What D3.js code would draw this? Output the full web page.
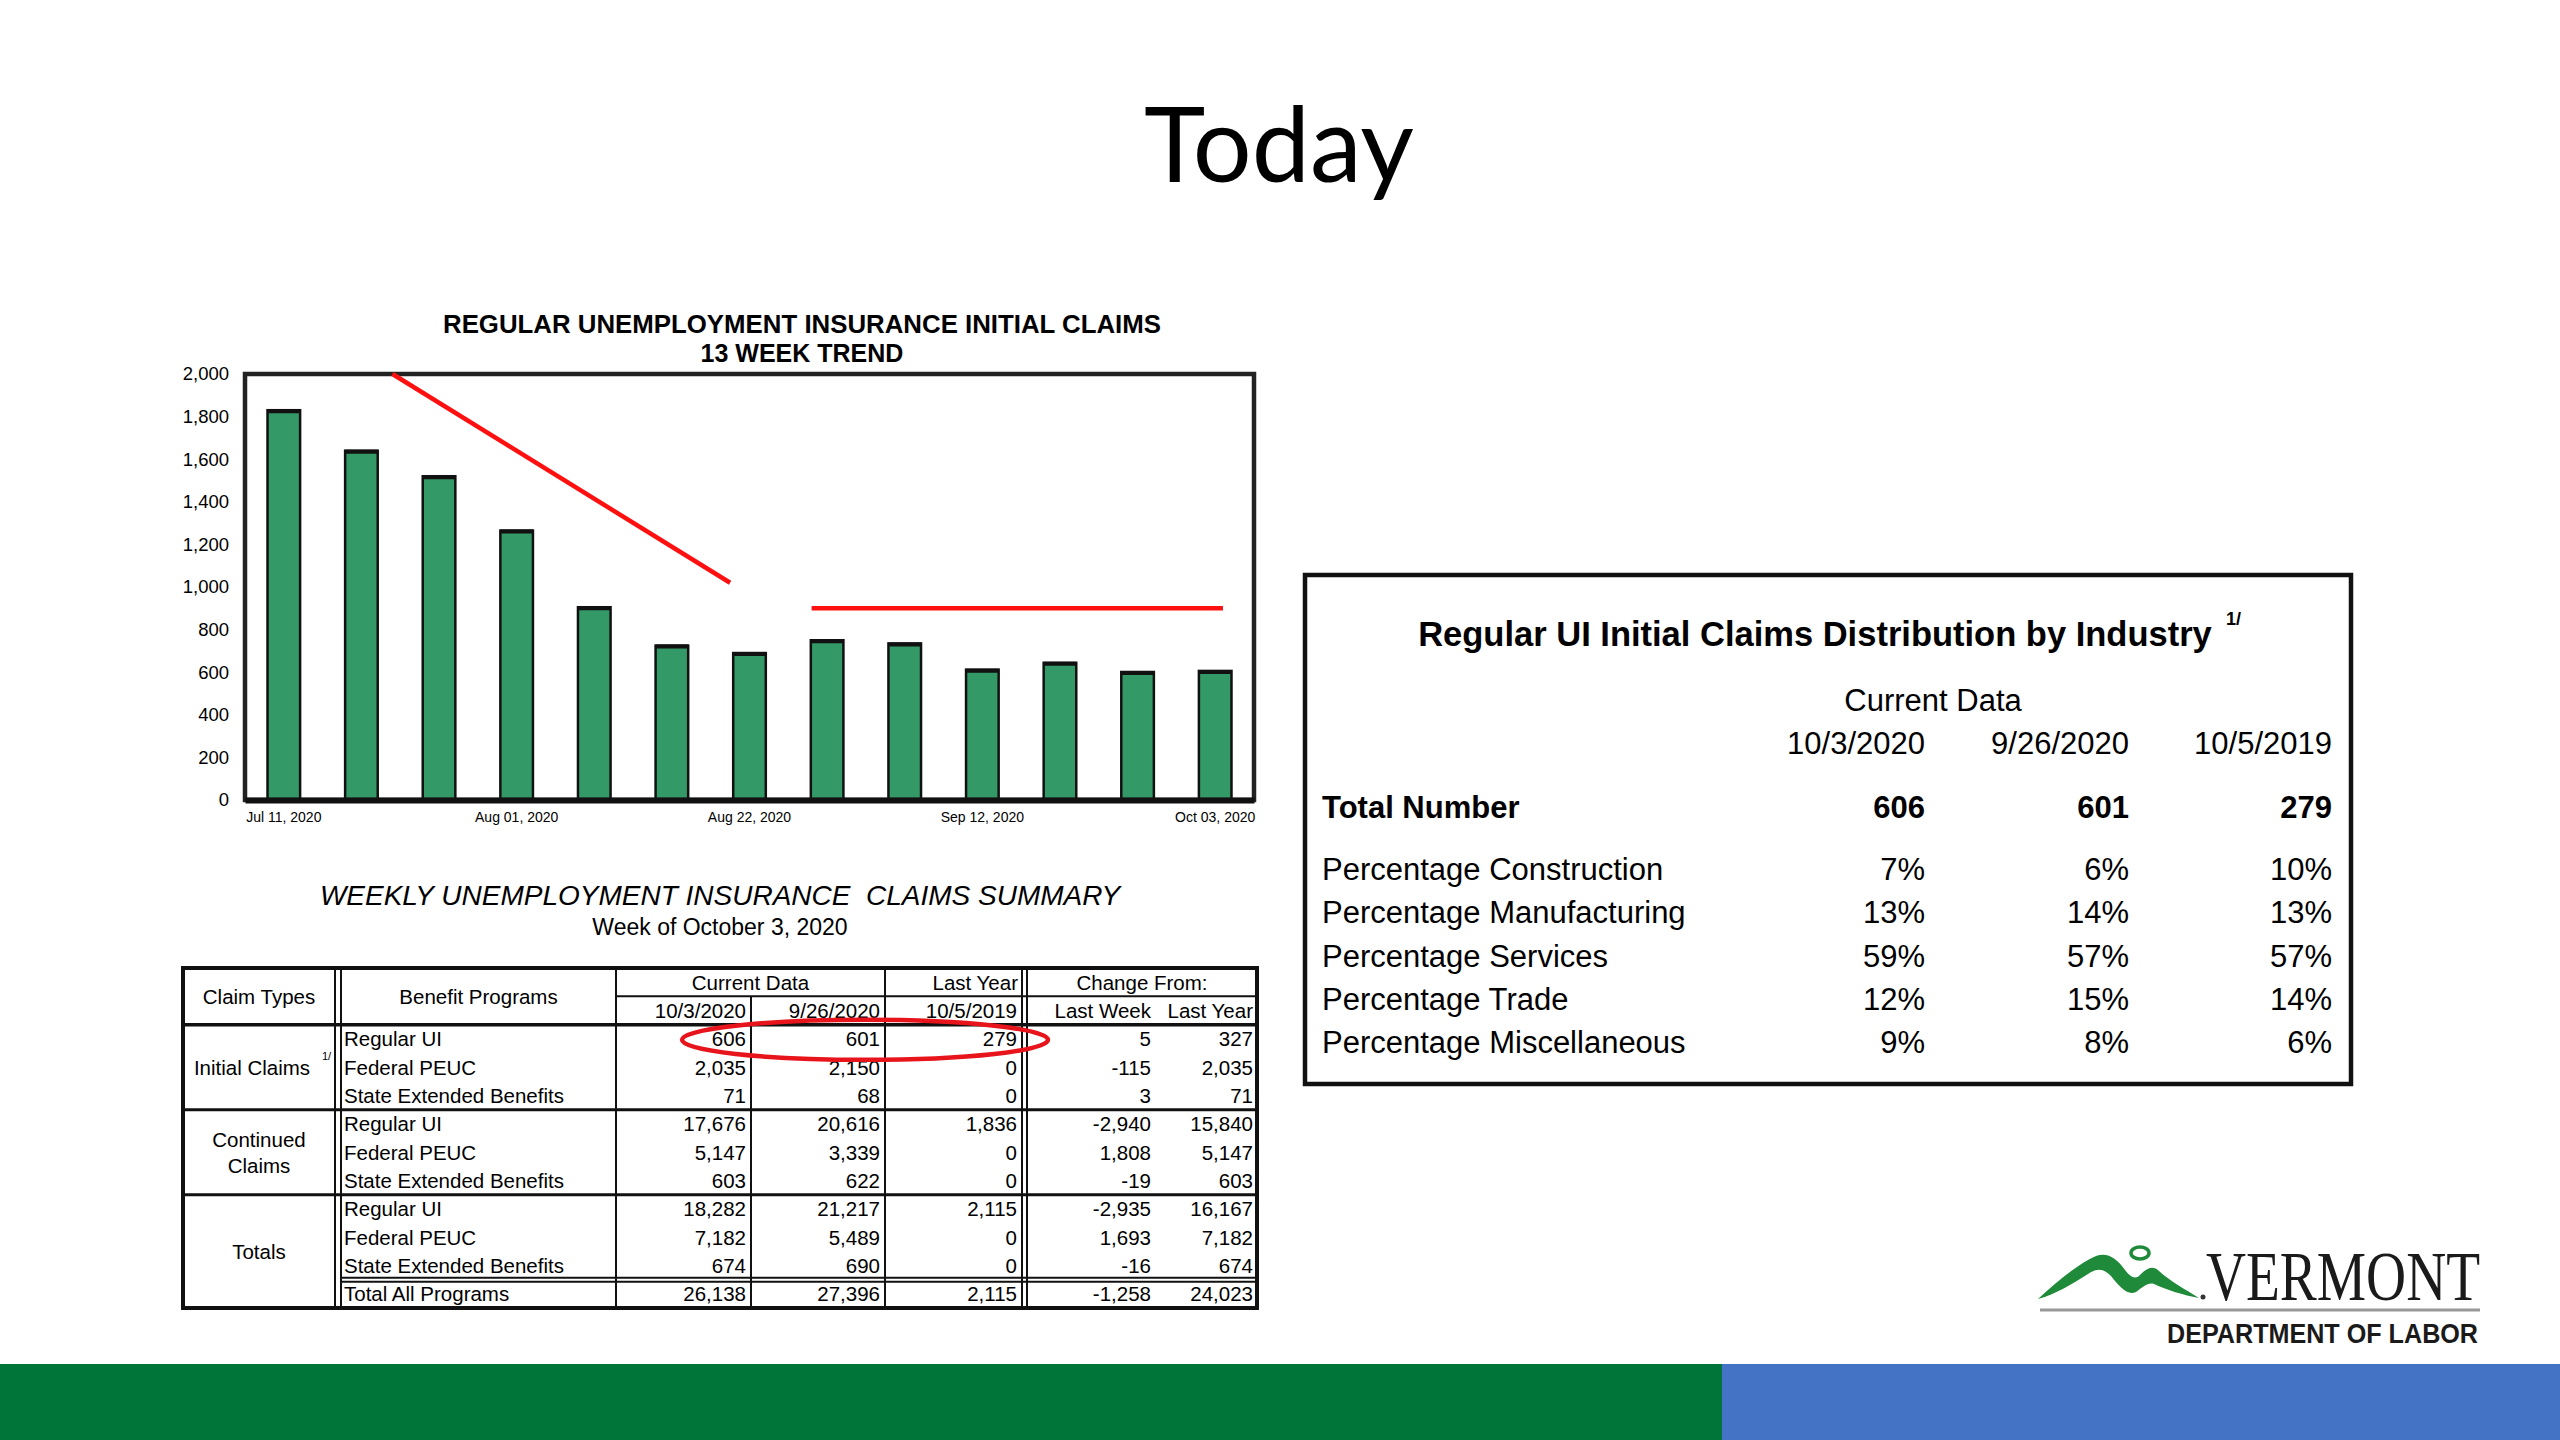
<!DOCTYPE html>
<html>
<head>
<meta charset="utf-8">
<script src="https://cdnjs.cloudflare.com/ajax/libs/d3/7.8.5/d3.min.js"></script>
<style>
  body { margin: 0; background: #fff; }
</style>
</head>
<body>
<div id="slide"></div>
<script>
// chart data
var weeks = ["Jul 11, 2020", "Jul 18, 2020", "Jul 25, 2020", "Aug 01, 2020", "Aug 08, 2020", "Aug 15, 2020",
    "Aug 22, 2020", "Aug 29, 2020", "Sep 05, 2020", "Sep 12, 2020", "Sep 19, 2020", "Sep 26, 2020", "Oct 03, 2020"];
var claims = [1830, 1640, 1520, 1265, 905, 725, 690, 750, 735, 612, 644, 601, 606];
var labeledWeeks = ["Jul 11, 2020", "Aug 01, 2020", "Aug 22, 2020", "Sep 12, 2020", "Oct 03, 2020"];
var yTicks = [0, 200, 400, 600, 800, 1000, 1200, 1400, 1600, 1800, 2000];
// red trend marks, x in week index units
var trendDown = [[1.4, 2000], [5.75, 1020]];
var trendFlat = [[6.8, 900], [12.1, 900]];

// summary table data
var summaryDates = ["10/3/2020", "9/26/2020", "10/5/2019"];
var changeCols = ["Last Week", "Last Year"];
var claimTypes = ["Initial Claims", "Continued Claims", "Totals"];
var programs = ["Regular UI", "Federal PEUC", "State Extended Benefits"];
var initialClaims = [[606, 601, 279, 5, 327], [2035, 2150, 0, -115, 2035], [71, 68, 0, 3, 71]];
var continuedClaims = [[17676, 20616, 1836, -2940, 15840], [5147, 3339, 0, 1808, 5147], [603, 622, 0, -19, 603]];
var totalClaims = [[18282, 21217, 2115, -2935, 16167], [7182, 5489, 0, 1693, 7182], [674, 690, 0, -16, 674]];
var allPrograms = [26138, 27396, 2115, -1258, 24023];

// industry table data
var industryDates = ["10/3/2020", "9/26/2020", "10/5/2019"];
var industryTotal = [606, 601, 279];
var industryLabels = ["Percentage Construction", "Percentage Manufacturing", "Percentage Services",
    "Percentage Trade", "Percentage Miscellaneous"];
var industryPct = [[7, 6, 10], [13, 14, 13], [59, 57, 57], [12, 15, 14], [9, 8, 6]];

var svgWidth = 2560;
var svgHeight = 1440;
var sans = "'Liberation Sans', Arial, sans-serif";

var svg = d3.select("#slide")
    .append("svg")
    .attr("width", svgWidth)
    .attr("height", svgHeight);

svg.append("rect").attr("width", svgWidth).attr("height", svgHeight).attr("fill", "#fff");

// slide title
svg.append("text")
    .attr("x", 1279)
    .attr("y", 182)
    .attr("text-anchor", "middle")
    .attr("font-family", "Lato, 'Open Sans', sans-serif")
    .attr("font-size", 104)
    .attr("fill", "#000")
    .text("Today");

// ---------- bar chart ----------
var plot = { left: 245, right: 1254, top: 374, bottom: 800 };

var x = d3.scaleBand()
    .domain(weeks)
    .range([plot.left, plot.right])
    .paddingInner(0.58)
    .paddingOuter(0.29);

var xIdx = d3.scaleLinear()
    .domain([-0.5, weeks.length - 0.5])
    .range([plot.left, plot.right]);

var y = d3.scaleLinear()
    .domain([0, 2000])
    .range([plot.bottom, plot.top]);

var chartGroup = svg.append("g");

chartGroup.append("text")
    .attr("x", 802).attr("y", 333)
    .attr("text-anchor", "middle")
    .attr("font-family", sans).attr("font-weight", "bold").attr("font-size", 25)
    .attr("textLength", 718).attr("lengthAdjust", "spacingAndGlyphs")
    .text("REGULAR UNEMPLOYMENT INSURANCE INITIAL CLAIMS");
chartGroup.append("text")
    .attr("x", 802).attr("y", 362)
    .attr("text-anchor", "middle")
    .attr("font-family", sans).attr("font-weight", "bold").attr("font-size", 25)
    .text("13 WEEK TREND");

chartGroup.selectAll(".bar")
    .data(claims)
    .enter()
    .append("rect")
    .attr("class", "bar")
    .attr("x", (d, i) => x(weeks[i]))
    .attr("y", d => y(d))
    .attr("width", x.bandwidth())
    .attr("height", d => y(0) - y(d))
    .attr("fill", "#339966")
    .attr("stroke", "#111")
    .attr("stroke-width", 2.5);

// dark cap on top of each bar
chartGroup.selectAll(".cap")
    .data(claims)
    .enter()
    .append("line")
    .attr("class", "cap")
    .attr("x1", (d, i) => x(weeks[i]))
    .attr("x2", (d, i) => x(weeks[i]) + x.bandwidth())
    .attr("y1", d => y(d) + 1)
    .attr("y2", d => y(d) + 1)
    .attr("stroke", "#111")
    .attr("stroke-width", 4);

// frame
chartGroup.append("rect")
    .attr("x", plot.left).attr("y", plot.top)
    .attr("width", plot.right - plot.left).attr("height", plot.bottom - plot.top)
    .attr("fill", "none").attr("stroke", "#222").attr("stroke-width", 4.5);

var leftAxis = d3.axisLeft(y).tickValues(yTicks).tickFormat(d3.format(",")).tickSize(0).tickPadding(16);
var yAxis = chartGroup.append("g")
    .attr("transform", `translate(${plot.left},0)`)
    .call(leftAxis);
yAxis.select(".domain").remove();
yAxis.selectAll("text").attr("font-family", sans).attr("font-size", 18.5).attr("fill", "#000");

var bottomAxis = d3.axisBottom(x).tickValues(labeledWeeks).tickSize(0).tickPadding(12);
var xAxis = chartGroup.append("g")
    .attr("transform", `translate(0,${plot.bottom})`)
    .call(bottomAxis);
xAxis.select(".domain").attr("stroke", "#111").attr("stroke-width", 6);
xAxis.selectAll("text").attr("font-family", sans).attr("font-size", 14).attr("fill", "#000");

var trendLine = d3.line().x(d => xIdx(d[0])).y(d => y(d[1]));
[trendDown, trendFlat].forEach(function (t) {
    chartGroup.append("path")
        .attr("d", trendLine(t))
        .attr("fill", "none")
        .attr("stroke", "#ff1010")
        .attr("stroke-width", 4.5);
});

// ---------- weekly summary table ----------
var tbl = svg.append("g");

tbl.append("text")
    .attr("x", 720).attr("y", 905)
    .attr("text-anchor", "middle")
    .attr("font-family", sans).attr("font-style", "italic").attr("font-size", 28)
    .attr("xml:space", "preserve")
    .text("WEEKLY UNEMPLOYMENT INSURANCE  CLAIMS SUMMARY");
tbl.append("text")
    .attr("x", 720).attr("y", 935)
    .attr("text-anchor", "middle")
    .attr("font-family", sans).attr("font-size", 23)
    .text("Week of October 3, 2020");

var col = { left: 183, typeR: 335, progL: 341, c1: 616, c2: 751, c3: 885, c4: 1022, chgL: 1027, lw: 1151, right: 1257 };
var rowY = d3.scaleLinear().domain([0, 12]).range([968, 1308]);
var valueRight = [col.c2 - 5, col.c3 - 5, col.c4 - 5, col.lw, col.right - 4];

var tableRows = [];
[initialClaims, continuedClaims, totalClaims].forEach(function (grp) {
    grp.forEach(function (vals, p) {
        tableRows.push({ program: programs[p], values: vals });
    });
});
tableRows.push({ program: "Total All Programs", values: allPrograms });

function hline(x1, x2, yy, w) {
    tbl.append("line").attr("x1", x1).attr("x2", x2).attr("y1", yy).attr("y2", yy)
        .attr("stroke", "#111").attr("stroke-width", w);
}
function vline(xx, y1, y2, w) {
    tbl.append("line").attr("x1", xx).attr("x2", xx).attr("y1", y1).attr("y2", y2)
        .attr("stroke", "#111").attr("stroke-width", w);
}

hline(col.c1, col.right, rowY(1), 2);
hline(col.left, col.right, rowY(2), 3.5);
hline(col.left, col.right, rowY(5), 3);
hline(col.left, col.right, rowY(8), 3);
hline(col.progL, col.right, rowY(11) - 2, 2);
hline(col.progL, col.right, rowY(11) + 2, 2);
vline(col.typeR, rowY(0), rowY(12), 2);
vline(col.progL, rowY(0), rowY(12), 2);
vline(col.c1, rowY(0), rowY(12), 2);
vline(col.c2, rowY(1), rowY(12), 2);
vline(col.c3, rowY(0), rowY(12), 2);
vline(col.c4, rowY(0), rowY(12), 2);
vline(col.chgL, rowY(0), rowY(12), 2);
tbl.append("rect")
    .attr("x", col.left).attr("y", rowY(0))
    .attr("width", col.right - col.left).attr("height", rowY(12) - rowY(0))
    .attr("fill", "none").attr("stroke", "#111").attr("stroke-width", 4);

function cell(txt, xx, yy, anchor) {
    return tbl.append("text")
        .attr("x", xx).attr("y", yy).attr("dy", "0.36em")
        .attr("text-anchor", anchor)
        .attr("font-family", sans).attr("font-size", 20.5)
        .attr("fill", "#000")
        .text(txt);
}
var mid = i => (rowY(i) + rowY(i + 1)) / 2;

// headers
cell("Claim Types", (col.left + col.typeR) / 2, rowY(1), "middle");
cell("Benefit Programs", (col.progL + col.c1) / 2, rowY(1), "middle");
cell("Current Data", (col.c1 + col.c3) / 2, mid(0), "middle");
cell("Last Year", col.c4 - 4, mid(0), "end");
cell("Change From:", (col.chgL + col.right) / 2, mid(0), "middle");
summaryDates.forEach(function (d, i) { cell(d, valueRight[i], mid(1), "end"); });
changeCols.forEach(function (d, i) { cell(d, valueRight[3 + i], mid(1), "end"); });

// claim types
cell(claimTypes[0], (col.left + col.typeR) / 2 - 7, mid(3), "middle");
tbl.append("text").attr("x", col.typeR - 13).attr("y", mid(3) - 7)
    .attr("font-family", sans).attr("font-size", 11).text("1/");
cell("Continued", (col.left + col.typeR) / 2, mid(6) - 13, "middle");
cell("Claims", (col.left + col.typeR) / 2, mid(6) + 13, "middle");
cell(claimTypes[2], (col.left + col.typeR) / 2, mid(9) + 14, "middle");

var fmt = d3.format(",");
tableRows.forEach(function (r, i) {
    cell(r.program, col.progL + 3, mid(i + 2), "start");
    r.values.forEach(function (v, j) {
        cell(fmt(v).replace("−", "-"), valueRight[j], mid(i + 2), "end");
    });
});

// red highlight around regular UI initial claims
var ellL = col.c1 + 66, ellR = col.c4 + 26;
tbl.append("ellipse")
    .attr("cx", (ellL + ellR) / 2)
    .attr("cy", mid(2) + 1)
    .attr("rx", (ellR - ellL) / 2)
    .attr("ry", 20)
    .attr("fill", "none")
    .attr("stroke", "#e8141c")
    .attr("stroke-width", 4.5);

// ---------- industry distribution ----------
var ind = svg.append("g");
var box = { left: 1305, top: 575, right: 2351, bottom: 1084 };
ind.append("rect")
    .attr("x", box.left).attr("y", box.top)
    .attr("width", box.right - box.left).attr("height", box.bottom - box.top)
    .attr("fill", "#fff").attr("stroke", "#111").attr("stroke-width", 4.5);

ind.append("text")
    .attr("x", 1815).attr("y", 646)
    .attr("text-anchor", "middle")
    .attr("font-family", sans).attr("font-weight", "bold").attr("font-size", 34.5)
    .text("Regular UI Initial Claims Distribution by Industry");
ind.append("text")
    .attr("x", 2226).attr("y", 625)
    .attr("font-family", sans).attr("font-weight", "bold").attr("font-size", 18)
    .text("1/");

var indCol = [1925, 2129, 2332];
var indFont = 31;
ind.append("text")
    .attr("x", 1933).attr("y", 711)
    .attr("text-anchor", "middle")
    .attr("font-family", sans).attr("font-size", indFont)
    .text("Current Data");
industryDates.forEach(function (d, i) {
    ind.append("text").attr("x", indCol[i]).attr("y", 754).attr("text-anchor", "end")
        .attr("font-family", sans).attr("font-size", indFont).text(d);
});

ind.append("text").attr("x", 1322).attr("y", 818)
    .attr("font-family", sans).attr("font-weight", "bold").attr("font-size", indFont)
    .text("Total Number");
industryTotal.forEach(function (v, i) {
    ind.append("text").attr("x", indCol[i]).attr("y", 818).attr("text-anchor", "end")
        .attr("font-family", sans).attr("font-weight", "bold").attr("font-size", indFont).text(fmt(v));
});

var indY = d3.scaleLinear().domain([0, 4]).range([880, 1053]);
industryLabels.forEach(function (lab, r) {
    ind.append("text").attr("x", 1322).attr("y", indY(r))
        .attr("font-family", sans).attr("font-size", indFont).text(lab);
    industryPct[r].forEach(function (v, i) {
        ind.append("text").attr("x", indCol[i]).attr("y", indY(r)).attr("text-anchor", "end")
            .attr("font-family", sans).attr("font-size", indFont).text(v + "%");
    });
});

// ---------- logo ----------
var logo = svg.append("g");
logo.append("path")
    .attr("d", "M2038,1299 C2056,1282 2078,1264 2096,1256 C2108,1252 2117,1259 2125,1270 C2131,1278 2136,1280 2141,1274 C2147,1268 2153,1265 2159,1271 C2171,1282 2185,1289 2199,1298 C2183,1295 2167,1290 2154,1284 C2148,1282 2143,1287 2136,1292 C2127,1296 2119,1286 2111,1276 C2103,1268 2097,1268 2088,1274 C2072,1284 2056,1294 2038,1299 Z")
    .attr("fill", "#1f8a3a");
logo.append("ellipse")
    .attr("cx", 2140).attr("cy", 1253).attr("rx", 9).attr("ry", 6)
    .attr("fill", "none").attr("stroke", "#1f8a3a").attr("stroke-width", 3.5);
logo.append("circle").attr("cx", 2203).attr("cy", 1297).attr("r", 2.5).attr("fill", "#333");
logo.append("text")
    .attr("x", 2206).attr("y", 1300)
    .attr("font-family", "'Liberation Serif', 'DejaVu Serif', serif")
    .attr("font-size", 70)
    .attr("textLength", 274).attr("lengthAdjust", "spacingAndGlyphs")
    .attr("fill", "#1a1a1a")
    .text("VERMONT");
logo.append("line")
    .attr("x1", 2040).attr("x2", 2480).attr("y1", 1310).attr("y2", 1310)
    .attr("stroke", "#999").attr("stroke-width", 3);
logo.append("text")
    .attr("x", 2167).attr("y", 1343)
    .attr("font-family", sans).attr("font-weight", "bold")
    .attr("font-size", 27)
    .attr("textLength", 311).attr("lengthAdjust", "spacingAndGlyphs")
    .attr("fill", "#1a1a1a")
    .text("DEPARTMENT OF LABOR");

// ---------- footer bands ----------
svg.append("rect").attr("x", 0).attr("y", 1364).attr("width", 1722).attr("height", 76).attr("fill", "#00753a");
svg.append("rect").attr("x", 1722).attr("y", 1364).attr("width", 838).attr("height", 76).attr("fill", "#4472c4");
</script>
</body>
</html>
